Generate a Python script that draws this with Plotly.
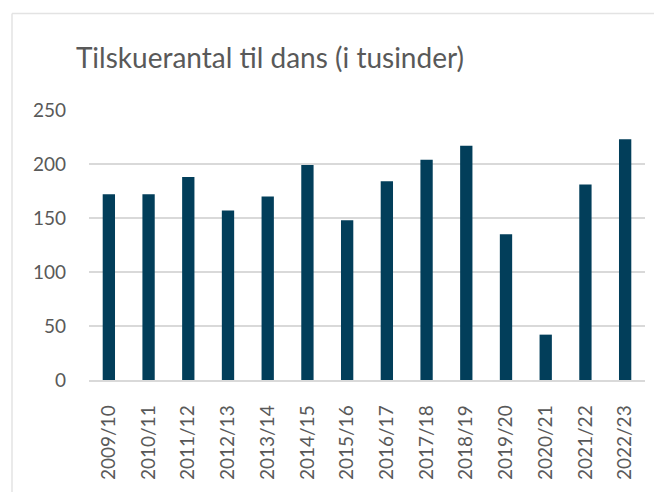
import plotly.graph_objects as go

seasons = ["2009/10", "2010/11", "2011/12", "2012/13", "2013/14", "2014/15", "2015/16",
           "2016/17", "2017/18", "2018/19", "2019/20", "2020/21", "2021/22", "2022/23"]
spectators = [172, 172, 188, 157, 170, 199, 148, 184, 204, 217, 135, 42, 181, 223]

# page has an 8px body margin; figure sized to fill the rest of the window
OFF = 8
W, H = 662 - OFF, 492 - OFF
L, R, T, B = 89 - OFF, 17, 110 - OFF, 108
pw, ph = W - L - R, H - T - B

fig = go.Figure(go.Bar(x=seasons, y=spectators, marker=dict(color="#023E5A", line=dict(width=0)),
                       width=0.31))

def px_to_paper_x(px):
    return (px - OFF - L) / pw

def px_to_paper_y(py):
    return 1 - (py - OFF - T) / ph

border = "#E3E3E3"
fig.add_shape(type="line", xref="paper", yref="paper",
              x0=px_to_paper_x(12), x1=px_to_paper_x(12),
              y0=px_to_paper_y(12), y1=px_to_paper_y(510), line=dict(color=border, width=1.5))
fig.add_shape(type="line", xref="paper", yref="paper",
              x0=px_to_paper_x(12), x1=px_to_paper_x(680),
              y0=px_to_paper_y(12), y1=px_to_paper_y(12), line=dict(color=border, width=1.5))

fig.update_layout(
    width=W, height=H,
    margin=dict(l=L, r=R, t=T, b=B),
    paper_bgcolor="white", plot_bgcolor="white",
    font=dict(family="Lato", color="#595959", size=19),
    title=dict(text="Tilskuerantal til dans (i tusinder)", x=(270 - OFF) / W, xanchor="center",
               y=1 - (58 - OFF) / H, yanchor="middle",
               font=dict(family="Lato", size=28, color="#595959")),
    showlegend=False,
    bargap=0.69,
)
fig.update_xaxes(type="category", tickangle=-90, showgrid=False, showline=True,
                 linecolor="#D9D9D9", linewidth=1.5, ticks="", ticklabelstandoff=16,
                 tickfont=dict(size=19, color="#595959"))
fig.update_yaxes(range=[0, 250], dtick=50, showgrid=True, gridcolor="#D9D9D9", gridwidth=1.5,
                 zeroline=False, showline=False, ticks="", ticklabelstandoff=22,
                 tickfont=dict(size=19, color="#595959"))

fig.write_html("out.html")
